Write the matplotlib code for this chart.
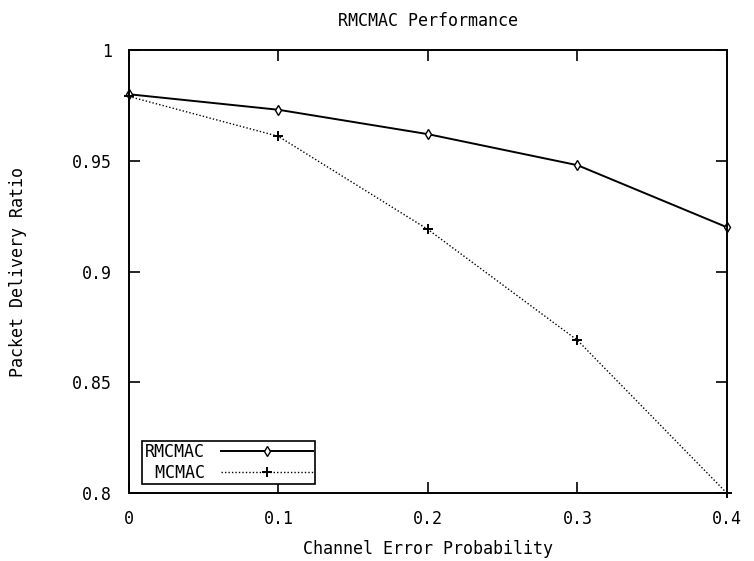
import matplotlib
matplotlib.use('Agg')
from matplotlib import pyplot as plt

# data
error_prob = [0.0, 0.1, 0.2, 0.3, 0.4]
rmcmac = [0.980, 0.973, 0.962, 0.948, 0.920]
mcmac = [0.979, 0.961, 0.919, 0.869, 0.800]
x_ticks = [0, 0.1, 0.2, 0.3, 0.4]
x_tick_labels = ['0', '0.1', '0.2', '0.3', '0.4']
y_ticks = [0.8, 0.85, 0.9, 0.95, 1.0]
y_tick_labels = ['0.8', '0.85', '0.9', '0.95', '1']

plt.rcParams['font.family'] = ['DejaVu Sans Mono']
plt.rcParams['font.size'] = 12

fig = plt.figure(figsize=(7.54, 5.61), dpi=100)
ax = fig.add_axes([0.171, 0.121, 0.793, 0.790])

ax.plot(error_prob, rmcmac, color='black', lw=1.4, marker='d',
        markersize=5, markerfacecolor='white', markeredgewidth=1.0,
        label='RMCMAC', clip_on=False)
ax.plot(error_prob, mcmac, color='black', lw=1.0, ls=(0, (1, 1.5)),
        marker='+', markersize=7, markeredgewidth=1.4,
        label=' MCMAC', clip_on=False)

ax.set_xlim(0, 0.4)
ax.set_ylim(0.8, 1.0)
ax.set_xticks(x_ticks)
ax.set_xticklabels(x_tick_labels)
ax.set_yticks(y_ticks)
ax.set_yticklabels(y_tick_labels)
ax.tick_params(direction='in', length=8, width=1.2, top=True, right=True,
               labelsize=12)
ax.tick_params(axis='x', pad=12)
ax.tick_params(axis='y', pad=12)
for s in ax.spines.values():
    s.set_linewidth(1.4)

ax.set_title('RMCMAC Performance', fontsize=12, pad=17)
ax.set_xlabel('Channel Error Probability', fontsize=12)
ax.xaxis.set_label_coords(0.5, -0.106)
ax.set_ylabel('Packet Delivery Ratio', fontsize=12)
ax.yaxis.set_label_coords(-0.170, 0.5)

leg = ax.legend(loc='lower left', bbox_to_anchor=(0.022, 0.02),
                markerfirst=False, fancybox=False, framealpha=1,
                edgecolor='black', borderpad=0.15, handlelength=5.5,
                handletextpad=1.0, labelspacing=0.15, borderaxespad=0.0)
leg.get_frame().set_linewidth(1.2)

fig.savefig('out.png', dpi=100)
